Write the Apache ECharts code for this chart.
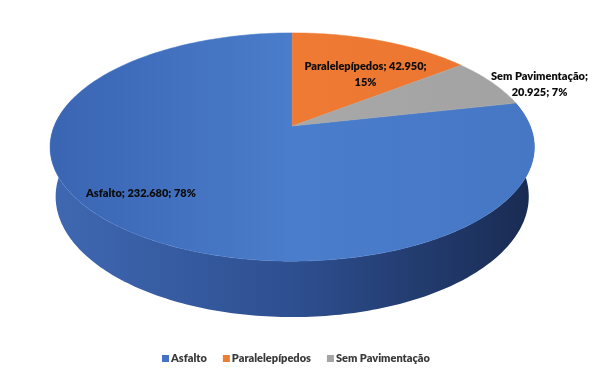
<!DOCTYPE html>
<html>
<head>
<meta charset="utf-8">
<script src="https://cdn.jsdelivr.net/npm/echarts@6/dist/echarts.min.js"></script>
<style>
  html, body { margin: 0; padding: 0; background: #fff; }
  #main { width: 600px; height: 378px; }
</style>
</head>
<body>
<div id="main"></div>
<script>
var categories = ['Asfalto', 'Paralelepípedos', 'Sem Pavimentação'];
var values = [232680, 42950, 20925];
var percentLabels = ['78%', '15%', '7%'];

(function () {
    var chart = echarts.init(document.getElementById('main'));

    // slices are laid out clockwise from 12 o'clock: orange, grey, then blue
    var order = [1, 2, 0];
    var total = values.reduce(function (a, b) { return a + b; }, 0);
    var startOf = {};
    var acc = 0;
    order.forEach(function (i) { startOf[i] = acc; acc += values[i]; });

    var topColors = [
        ['#3a65b3', '#4a7dcb', '#4577c5'],
        ['#e8651f', '#ee7a33', '#ec7530'],
        ['#9c9c9c', '#a8a8a8', '#a2a2a2']
    ];
    var wallColors = [['#3f68b2', '#2e4f90', '#192b52'], ['#c0561c', '#a84a18', '#8a3c12'], ['#8a8a8a', '#7a7a7a', '#666']];
    var labelRadius = [0.75, 0.58, 1.2];
    var labelShift = [[-26, -5], [18, 1], [11, 10]];
    var thick = 0.237;

    function fmt(v) {
        return String(v).replace(/\B(?=(\d{3})+(?!\d))/g, '.');
    }

    // simple perspective camera looking down at the disc
    function project(w, r, phi, y) {
        var tilt = 27.6 * Math.PI / 180, d = 4.81, k = w * 1.908;
        var cx = w * 0.487, cy = w * 0.21;
        var s = Math.sin(tilt), c = Math.cos(tilt);
        var px = r * Math.sin(phi), pz = r * Math.cos(phi);
        var depth = d + pz * c - y * s;
        return [cx + k * px / depth, cy - k * (y * c + pz * s) / depth];
    }

    function arc(w, a, b, y) {
        var pts = [];
        var n = Math.max(2, Math.ceil(b - a));
        for (var j = 0; j <= n; j++) {
            var deg = a + (b - a) * j / n;
            pts.push(project(w, 1, deg * Math.PI / 180, y));
        }
        return pts;
    }

    function grad(x1, x2, cols) {
        return {
            type: 'linear', x: x1, y: 0, x2: x2, y2: 0, global: true,
            colorStops: [{ offset: 0, color: cols[0] }, { offset: 0.5, color: cols[1] }, { offset: 1, color: cols[2] }]
        };
    }

    function sliceRange(i) {
        return [startOf[i] / total * 360, (startOf[i] + values[i]) / total * 360];
    }

    // all the side walls go in one series underneath the tops
    function renderWalls(params, api) {
        var w = api.getWidth();
        var left = project(w, 1, -Math.PI / 2, 0)[0], right = project(w, 1, Math.PI / 2, 0)[0];
        var children = [];
        categories.forEach(function (name, i) {
            var r = sliceRange(i);
            var wa = Math.max(r[0], 75), wb = Math.min(r[1], 285);
            if (wb <= wa) return;
            var top = arc(w, wa, wb, 0);
            var bottom = arc(w, wa, wb, -thick).reverse();
            children.push({
                type: 'polygon',
                shape: { points: top.concat(bottom) },
                style: { fill: grad(left, right, wallColors[i]) }
            });
        });
        return { type: 'group', children: children };
    }

    function renderSlice(i) {
        return function (params, api) {
            var w = api.getWidth();
            var r = sliceRange(i), a = r[0], b = r[1];
            var left = project(w, 1, -Math.PI / 2, 0)[0], right = project(w, 1, Math.PI / 2, 0)[0];
            var children = [];

            var pts = [project(w, 0, 0, 0)].concat(arc(w, a, b, 0));
            children.push({
                type: 'polygon',
                shape: { points: pts },
                style: { fill: grad(left, right, topColors[i]), stroke: topColors[i][1], lineWidth: 0.5 }
            });

            var mid = (a + b) / 2 * Math.PI / 180;
            var p = project(w, labelRadius[i], mid, 0);
            var txt = categories[i] + '; ' + fmt(values[i]) + '; ' + percentLabels[i];
            if (i === 1) txt = categories[i] + '; ' + fmt(values[i]) + ';\n' + percentLabels[i];
            if (i === 2) txt = categories[i] + ';\n' + fmt(values[i]) + '; ' + percentLabels[i];
            children.push({
                type: 'text',
                x: p[0] + labelShift[i][0],
                y: p[1] + labelShift[i][1],
                style: {
                    text: txt,
                    fill: '#0c0c0c',
                    font: '800 11px Lato',
                    align: 'center',
                    verticalAlign: 'middle',
                    lineHeight: 16
                }
            });
            return { type: 'group', children: children };
        };
    }

    var seriesColors = ['#4472c4', '#ed7d31', '#a5a5a5'];
    var series = [{
        type: 'custom',
        coordinateSystem: 'none',
        z: 1,
        silent: true,
        data: [[0]],
        renderItem: renderWalls
    }].concat(categories.map(function (name, i) {
        return {
            type: 'custom',
            name: name,
            coordinateSystem: 'none',
            z: 2,
            itemStyle: { color: seriesColors[i] },
            data: [[values[i]]],
            renderItem: renderSlice(i)
        };
    }));

    var option = {
        animation: false,
        legend: {
            data: categories,
            bottom: 9,
            left: 157,
            icon: 'rect',
            itemWidth: 7,
            itemHeight: 7,
            itemGap: 16,
            textStyle: { color: '#3a3a3a', fontSize: 11, fontWeight: 800, fontFamily: 'Lato', padding: [0, 0, 0, -3] }
        },
        series: series
    };

    chart.setOption(option);
    window.addEventListener('resize', function () { chart.resize(); });
})();
</script>
</body>
</html>
